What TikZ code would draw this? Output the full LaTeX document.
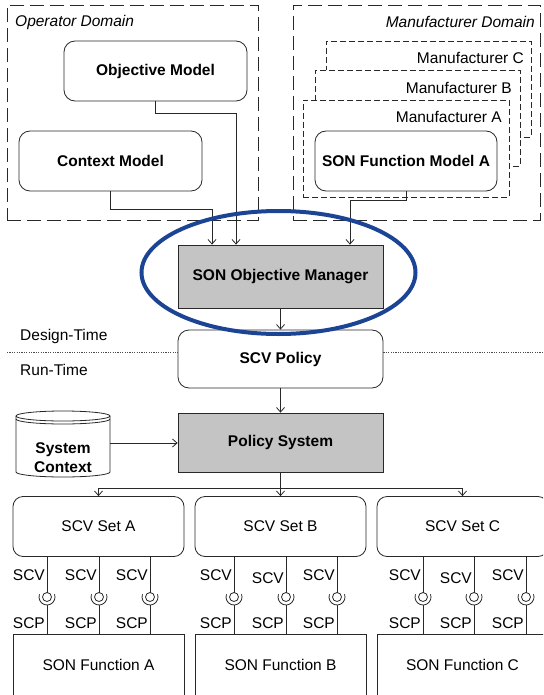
\documentclass[tikz,border=0pt]{standalone}
\usepackage{fontspec}
\setmainfont{Liberation Sans}
\usetikzlibrary{arrows.meta,calc}
\definecolor{boxgray}{RGB}{196,196,196}
\definecolor{ellblue}{RGB}{28,68,148}
\definecolor{lncol}{RGB}{40,40,40}
\begin{document}
\begin{tikzpicture}[x=1pt,y=-1pt,
  every node/.style={font=\fontsize{15.5}{19}\selectfont, inner sep=0pt, text=black},
  ln/.style={line width=0.8pt, draw=lncol},
  bigdash/.style={ln, dash pattern=on 14pt off 6pt},
  smalldash/.style={ln, dash pattern=on 6pt off 3pt},
  rbox/.style={ln, rounded corners=11pt, fill=white, align=center},
  gbox/.style={ln, fill=boxgray, align=center},
  fbox/.style={ln, fill=white, align=center, minimum width=171pt, minimum height=62pt},
  arr/.style={ln, -{Straight Barb[length=4.5pt,width=8pt]}},
  bf/.style={font=\fontsize{15.5}{19}\selectfont\bfseries},
  dotline/.style={line width=0.8pt, draw=black!70, dash pattern=on 1.2pt off 1.2pt}
]
\useasboundingbox (0,0) rectangle (543,695);
\clip (0,0) rectangle (543,695);

% domains
\node[bigdash, minimum width=251pt, minimum height=215pt] (opdom) at (132.5,112.5) {};
\node[bigdash, minimum width=247pt, minimum height=215pt] (mfdom) at (416.5,112.5) {};
\node[anchor=west, font=\fontsize{15.5}{19}\selectfont\itshape] (optxt) at (15,22) {Operator Domain};
\node[anchor=east, font=\fontsize{15.5}{19}\selectfont\itshape] (mftxt) at (535,22) {Manufacturer Domain};

% manufacturers
\node[smalldash, fill=white, minimum width=205pt, minimum height=96pt] (mC) at (428.5,89) {};
\node[anchor=east] (mCt) at (524,58) {Manufacturer C};
\node[smalldash, fill=white, minimum width=205pt, minimum height=96pt] (mB) at (417.5,118) {};
\node[anchor=east] (mBt) at (512,88) {Manufacturer B};
\node[smalldash, fill=white, minimum width=206pt, minimum height=97pt] (mA) at (406,148.5) {};
\node[anchor=east] (mAt) at (502,117) {Manufacturer A};

% models
\node[rbox, bf, minimum width=183pt, minimum height=60pt] (objm) at (155.5,71) {Objective Model};
\node[rbox, bf, minimum width=183pt, minimum height=60pt] (ctxm) at (110.5,161) {Context Model};
\node[rbox, bf, minimum width=182pt, minimum height=60pt] (sonfm) at (406,161) {SON Function Model A};

% manager, policy
\node[gbox, bf, minimum width=205pt, minimum height=63pt] (mgr) at (280.5,276.5) {SON Objective Manager};
\node[rbox, bf, minimum width=205pt, minimum height=58pt] (pol) at (280.5,359) {SCV Policy};
\node[gbox, bf, minimum width=205pt, minimum height=59pt] (psys) at (280.5,442.5) {Policy System};

\draw[arr] (ctxm.south) -- ++(0,18) -| ([xshift=-68.5pt]mgr.north);
\draw[arr] (objm.south) -- ++(0,12) -| ([xshift=-44.5pt]mgr.north);
\draw[arr] (sonfm.south) -- ++(0,9) -| ([xshift=69.5pt]mgr.north);
\draw[arr] (mgr.south) -- (pol.north);
\draw[arr] (pol.south) -- (psys.north);

% design/run time
\coordinate (dl) at (7,352);
\coordinate (dr) at (543,352);
\draw[dotline] (dl) -- (dl -| pol.west);
\draw[dotline] (pol.east |- dr) -- (dr);
\node[anchor=west] (dt) at (20,336) {Design-Time};
\node[anchor=west] (rt) at (20,370) {Run-Time};

% system context cylinder
\draw[ln, fill=white] (16,416) -- (16,472) arc[start angle=180,end angle=360,x radius=47pt,y radius=5pt]
  -- (110,416) arc[start angle=0,end angle=180,x radius=47pt,y radius=5pt] -- cycle;
\draw[ln] (16,416) arc[start angle=180,end angle=360,x radius=47pt,y radius=5pt];
\draw[ln] (16,419) arc[start angle=180,end angle=360,x radius=47pt,y radius=5pt];
\node[bf, align=center] (syscx) at (63,458) {System\\Context};
\coordinate (cylE) at (110,443);
\draw[arr] (cylE) -- (cylE -| psys.west);

% SCV sets
\node[rbox, rounded corners=10pt, minimum width=171pt, minimum height=60pt] (setA) at (98.5,526.5) {SCV Set A};
\node[rbox, rounded corners=10pt, minimum width=171pt, minimum height=60pt] (setB) at (280.5,526.5) {SCV Set B};
\node[rbox, rounded corners=10pt, minimum width=171pt, minimum height=60pt] (setC) at (462.5,526.5) {SCV Set C};
\coordinate (bus) at (280.5,488);
\draw[arr] (psys.south) -- (setB.north);
\draw[arr] (psys.south |- bus) -| (setA.north);
\draw[arr] (psys.south |- bus) -| (setC.north);

% SON functions
\node[fbox] (funA) at (98.5,665) {SON Function A};
\node[fbox] (funB) at (280.5,665) {SON Function B};
\node[fbox] (funC) at (462.5,665) {SON Function C};

% interfaces
\foreach \x/\s/\f/\yv [count=\i] in {47/setA/funA/575, 99/setA/funA/575, 150/setA/funA/575,
  234/setB/funB/575, 286/setB/funB/578, 337/setB/funB/575,
  423/setC/funC/575, 474/setC/funC/578, 526/setC/funC/575} {
  \coordinate (sk\i) at (\x,597);
  \draw[ln] (sk\i |- \s.south) -- ([yshift=4.5pt]sk\i);
  \draw[ln] (sk\i) circle[radius=4.5pt];
  \draw[ln] ([shift={(160:8pt)}]sk\i) arc[start angle=160,end angle=380,radius=8pt];
  \draw[ln] ([yshift=-8pt]sk\i) -- (sk\i |- \f.north);
  \node[anchor=east] (scv\i) at (\x-2,\yv) {SCV};
  \node[anchor=east] (scp\i) at (\x-2,623) {SCP};
}

% highlight ellipse
\coordinate (ellc) at (278.5,272.5);
\draw[line width=4pt, draw=ellblue] (ellc) ellipse[x radius=137pt, y radius=61.5pt];
\end{tikzpicture}
\end{document}
